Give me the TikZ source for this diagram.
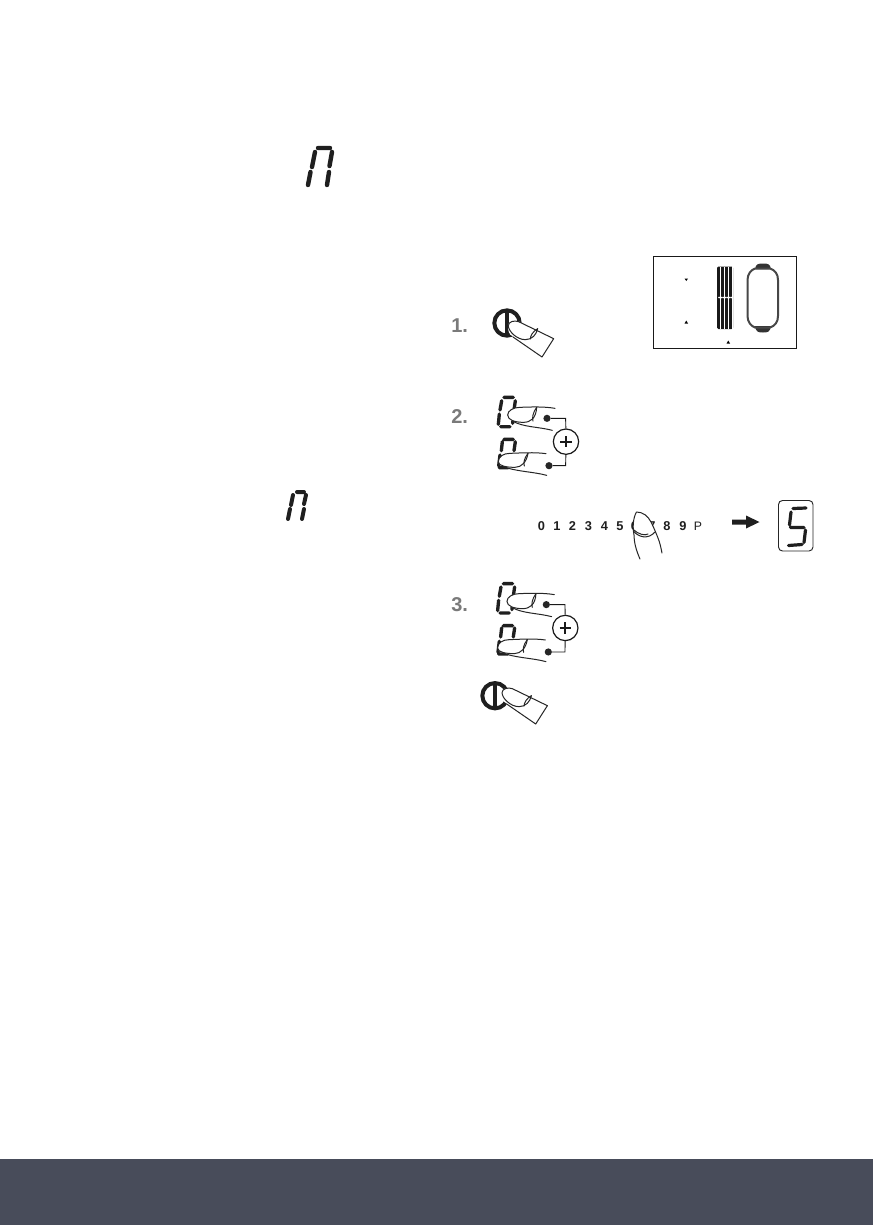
\documentclass[tikz,border=0pt]{standalone}
\usepackage{fontspec}
\setmainfont{Liberation Sans}
\tikzset{
  px/.style={x=0.75pt,y=-0.75pt},
  zm/.style={x=0.25pt,y=-0.25pt},
  seg/.style={line width=3.3pt,line cap=round,black!88},
  segs/.style={line width=2.5pt,line cap=round,black!88},
  fing/.style={line width=0.75pt,black!85,line cap=round,line join=round},
  steplabel/.style={font=\bfseries\fontsize{15}{15}\selectfont,text=black!52,anchor=base west,inner sep=0pt},
  scaledigit/.style={font=\bfseries\fontsize{9.6}{9.6}\selectfont,text=black!88,anchor=base,inner sep=0pt},
  wiredot/.style={circle,fill=black!85,minimum size=5.4pt,inner sep=0pt},
  plusbtn/.style={circle,draw=black!90,line width=0.9pt,fill=white,minimum size=19pt,inner sep=0pt},
  pics/pairfingers/.style={code={
    \begin{scope}[zm]
      % upper 0
      \draw[segs] (192,322)--(220,322) (185,332)--(180,360) (226,332)--(222,360)
                  (178,372)--(175,403) (220,372)--(218,400) (182,410)--(210,410);
      % upper finger
      \fill[white] (203,375) .. controls (206,360) and (220,352) .. (240,352) -- (345,355) -- (335,420) .. controls (290,412) and (240,405) .. (215,392) .. controls (207,388) and (203,382) .. (203,375) -- cycle;
      \draw[fing] (345,355) .. controls (310,349) and (270,351) .. (240,352) .. controls (220,352) and (203,362) .. (203,375) .. controls (203,390) and (225,397) .. (250,397) .. controls (272,397) and (288,385) .. (290,352);
      \draw[fing] (290,352) .. controls (278,368) and (276,385) .. (279,393);
      \draw[fing] (217,393) .. controls (250,412) and (295,410) .. (337,421);
      % lower 0
      \draw[segs] (192,448)--(220,448) (187,455)--(184,482) (226,455)--(222,482)
                  (180,495)--(176,528) (178,533)--(205,533);
      % lower finger
      \fill[white] (175,515) .. controls (178,500) and (190,490) .. (210,490) -- (318,490) -- (320,555) .. controls (270,550) and (220,540) .. (190,528) .. controls (180,525) and (175,522) .. (175,515) -- cycle;
      \draw[fing] (318,491) .. controls (285,486) and (240,489) .. (210,490) .. controls (190,490) and (175,500) .. (175,515) .. controls (175,528) and (200,532) .. (225,532) .. controls (245,532) and (260,515) .. (264,490);
      \draw[fing] (264,490) .. controls (252,505) and (250,520) .. (253,528);
      \draw[fing] (190,530) .. controls (230,545) and (280,545) .. (320,556);
      % connector
      \node[wiredot] (dotu) at (321,385) {};
      \node[wiredot] (dotl) at (327,527) {};
      \node[plusbtn] (plus) at (378,455) {};
      \draw[line width=1.7pt,black!90] (361,455)--(395,455) (378,438)--(378,472);
      \draw[line width=0.7pt,black!90] (dotu) -- (377,385) -- (plus);
      \draw[line width=0.7pt,black!90] (dotl) -- (377,527) -- (plus);
    \end{scope}
  }},
  pics/powerring/.style={code={
    \begin{scope}[zm]
      \draw[line width=3pt,black!88] (0,0) circle (38);
      \draw[line width=3pt,black!88] (0,-38)--(0,38);
    \end{scope}
  }},
  pics/pressfinger/.style={code={
    \begin{scope}[zm]
      \fill[white] (5,2) .. controls (10,-6) and (22,-8) .. (35,-5) -- (140,47) -- (105,102) -- (10,35) .. controls (2,25) and (2,10) .. (5,2) -- cycle;
      \draw[fing] (140,47) -- (35,-4) .. controls (22,-9) and (4,-4) .. (4,8) .. controls (4,25) and (30,50) .. (55,50) .. controls (75,50) and (88,35) .. (92,17);
      \draw[fing] (92,17) .. controls (78,25) and (70,38) .. (70,48);
      \draw[fing] (140,47) -- (105,102) -- (18,42);
    \end{scope}
  }}
}
\begin{document}
\begin{tikzpicture}[px]
\useasboundingbox (0,0) rectangle (873,1225);
\fill[white] (0,0) rectangle (873,1225);
% footer
\fill[fill={rgb,255:red,72;green,76;blue,90}] (0,1159) rectangle (873,1225);

% top display
\draw[seg] (318,148)--(330,148) (315,152)--(312,167) (332,152)--(329.5,166)
           (310.5,172)--(308,185) (329,172)--(327,185);
% second display
\draw[seg,line width=3pt] (297,492)--(304,492) (293,495)--(291,505) (306,495)--(304,504)
           (290,509)--(288,519) (304,509)--(302,519);

% step labels
\node[steplabel] (s1) at (451,332) {1.};
\node[steplabel] (s2) at (451,423) {2.};
\node[steplabel] (s3) at (451,611) {3.};

% power buttons
\pic (pw1) at (507,323) {powerring};
\pic (pf1) at (507,323) {pressfinger};
\pic (pw2) at (495,695.7) {powerring};
\pic (pf2) at (500.7,690) {pressfinger};

% pairs of fingers
\pic (p2) at (440,290) {pairfingers};
\pic (p3) at (439.3,476.3) {pairfingers};

% hob panel
\draw[line width=0.6pt,black!90] (653.5,256) rectangle (796,348);
\fill[black!90,rounded corners=1pt] (717,266.5) rectangle (733,329);
\foreach \x in {720.5,724.5,728.5,731.8}{\draw[white,line width=0.45pt] (\x,267)--(\x,329);}
\foreach \x in {719,721,723,725,727,729,731}{\fill[white] (\x,297.5) circle (1);}
% zone
\fill[black!80] (755,269) .. controls (756,264) and (758,263.5) .. (763,263.5) .. controls (768,263.5) and (770,264) .. (771,269) -- cycle;
\fill[black!80] (755,326) .. controls (756,332) and (758,332.5) .. (763,332.5) .. controls (768,332.5) and (770,332) .. (771,326) -- cycle;
\draw[line width=1.5pt,black!72] (755,268.5) -- (770,268.5) .. controls (775,270) and (778,274) .. (778,280) -- (778,316) .. controls (778,322) and (775,326) .. (770,327.5) -- (755,327.5) .. controls (751,326) and (747.5,322) .. (747.5,316) -- (747.5,280) .. controls (747.5,274) and (751,270) .. (755,268.5) -- cycle;
\fill[black] (684.5,278.5)--(688,278.5)--(686.3,281)--cycle;
\fill[black] (684.5,323.5)--(688,323.5)--(686.3,320.5)--cycle;
\fill[black] (726.5,343.5)--(730,343.5)--(728.3,340.5)--cycle;

% power scale
\node[scaledigit] (d0) at (541.5,530.5) {0};
\node[scaledigit] (d1) at (557,530.5) {1};
\node[scaledigit] (d2) at (572.5,530.5) {2};
\node[scaledigit] (d3) at (588.5,530.5) {3};
\node[scaledigit] (d4) at (604.5,530.5) {4};
\node[scaledigit] (d5) at (620,530.5) {5};
\node[scaledigit] (d6) at (634.5,530.5) {6};
\node[scaledigit] (d7) at (652,530.5) {7};
\node[scaledigit] (d8) at (667,530.5) {8};
\node[scaledigit] (d9) at (683,530.5) {9};
\node[scaledigit,font=\fontsize{9.2}{9.2}\selectfont] (dP) at (698,530.5) {P};
% finger on scale
\fill[white] (636.5,512) .. controls (634,518) and (632.5,526) .. (633.5,531) -- (640,559) -- (662,553) -- (655,532) .. controls (652,520) and (645,514) .. (636.5,512) -- cycle;
\draw[fing] (640,559) .. controls (636,550) and (634,542) .. (634,535) .. controls (632.5,527) and (633,518) .. (636.5,512) .. controls (643,512) and (648,516) .. (651,522) .. controls (654,528) and (656,533) .. (658,538) .. controls (660,543) and (661,548) .. (662,553);
\draw[fing] (633.5,531) .. controls (638,537) and (648,540) .. (655,532);
\draw[fing] (634,530) .. controls (638,534) and (645,536) .. (648,534);

% arrow
\fill[black!88] (732,519.5)--(746,519.5)--(746,515.5)--(759.5,522)--(746,528.5)--(746,524.5)--(732,524.5)--cycle;

% result display
\draw[line width=0.7pt,black!85,rounded corners=3pt] (778.5,500.5) rectangle (813,551);
\draw[segs,line width=2.4pt] (793,508.5)--(806,508) (791,512)--(789.5,525) (790.5,527.5)--(804,527.5)
   (805.5,530)--(804,542.5) (788.5,545.5)--(802,544.5);
\end{tikzpicture}
\end{document}
